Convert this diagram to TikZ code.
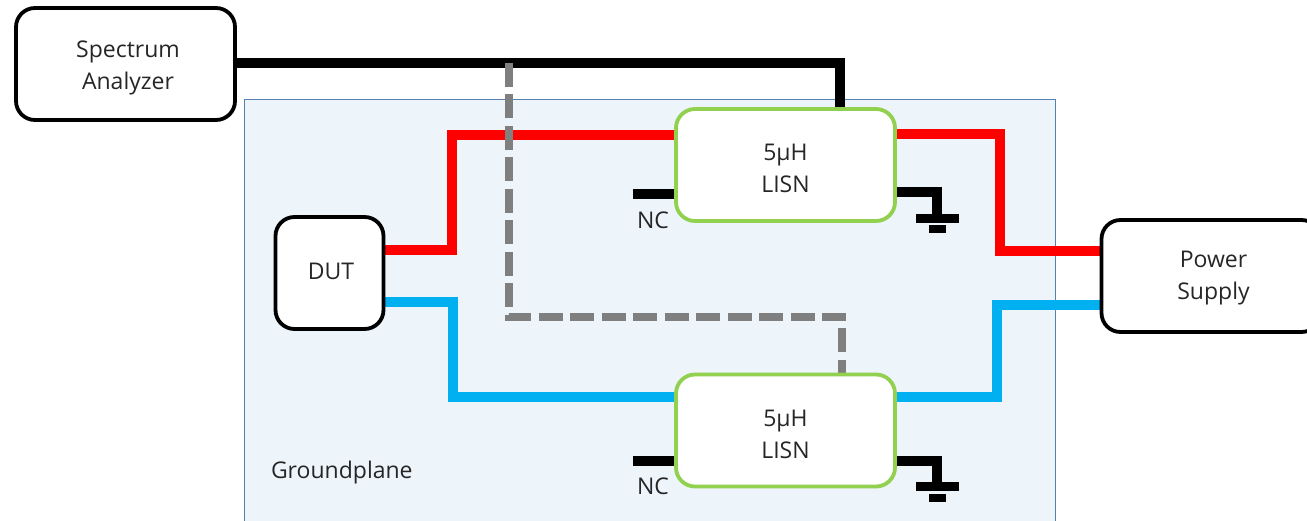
\documentclass[tikz,border=0pt]{standalone}
\usepackage{fontspec}
\setmainfont{Open Sans}
\pgfdeclarelayer{plane}
\pgfdeclarelayer{wires}
\pgfsetlayers{plane,wires,main}
\definecolor{planefill}{RGB}{237,244,250}
\definecolor{planeline}{RGB}{86,130,175}
\definecolor{lisngreen}{HTML}{92D050}
\definecolor{wireblue}{HTML}{00B0F0}
\definecolor{wiregray}{HTML}{7F7F7F}
\definecolor{txt}{RGB}{38,38,38}
\newcommand{\topstrut}[1]{\rule{0pt}{#1}}
\tikzset{
  lbl/.style={text=txt,font=\fontsize{23}{32}\selectfont,align=center,inner sep=0pt,outer sep=0pt},
  blockbox/.style={lbl,draw=black,fill=white,line width=3.8pt,rounded corners=19pt,minimum width=219pt,minimum height=112pt},
  lisnbox/.style={blockbox,draw=lisngreen},
  wire/.style={line width=10pt,line cap=butt,line join=miter},
  redwire/.style={wire,draw=red},
  bluewire/.style={wire,draw=wireblue},
  blackwire/.style={wire,draw=black},
  graywire/.style={line width=8pt,draw=wiregray,dash pattern=on 24pt off 7.5pt},
  gbar/.style={fill=black,draw=none,inner sep=0pt,outer sep=0pt,minimum width=43pt,minimum height=9pt},
  gdot/.style={fill=black,draw=none,inner sep=0pt,outer sep=0pt,minimum width=17pt,minimum height=8pt},
}
\begin{document}
\begin{tikzpicture}[x=1pt,y=-1pt]
\clip (0,0) rectangle (1307,521);
\begin{pgfonlayer}{plane}
\node[draw=planeline,fill=planefill,line width=1pt,inner sep=0pt,outer sep=0pt,minimum width=811pt,minimum height=440pt,anchor=north west] (plane) at (244.5,99.5) {};
\end{pgfonlayer}
\node[blockbox] (sa) at (125.5,64) {\topstrut{25.5pt}\hspace*{5pt}Spectrum\\\hspace*{5pt}Analyzer};
\node[blockbox,minimum width=108pt] (dut) at (329.5,273) {\rule[-4pt]{0pt}{4pt}\hspace*{3pt}DUT};
\node[blockbox,anchor=west] (ps) at (1101.5,276) {\topstrut{21.5pt}\hspace*{5pt}Power\\\hspace*{5pt}Supply};
\node[lisnbox] (l1) at (785.5,165) {\topstrut{23.5pt}5µH\\LISN};
\node[lisnbox] (l2) at (785.5,430.5) {\topstrut{23.5pt}5µH\\LISN};
\node[lbl,anchor=west] (gp) at (271,473) {Groundplane};
\node[lbl] (nc1) at (653,220) {NC};
\node[lbl] (nc2) at (653,486) {NC};
\coordinate (ncend1) at (633,194);
\coordinate (ncend2) at (633,460.5);
\node[gbar] (gb1) at (937.5,218.5) {};
\node[gdot] (gd1) at (937,229) {};
\node[gbar] (gb2) at (937.5,486) {};
\node[gdot] (gd2) at (937,497.5) {};
\begin{pgfonlayer}{wires}
\draw[blackwire] (sa.east |- 0,63) -- (839.5,63) -- (839.5,0 |- l1.north);
\draw[redwire] (dut.east |- 0,250) -- (452,250) -- (452,135) -- (l1.west |- 0,135);
\draw[redwire] (l1.east |- 0,134) -- (999.5,134) -- (999.5,251) -- (ps.west |- 0,251);
\draw[bluewire] (dut.east |- 0,302) -- (453,302) -- (453,397) -- (l2.west |- 0,397);
\draw[bluewire] (l2.east |- 0,397) -- (997,397) -- (997,305) -- (ps.west |- 0,305);
\draw[graywire] (509,63) -- (509,317) -- (842,317) -- (842,0 |- l2.north);
\draw[blackwire] (ncend1) -- (l1.west |- ncend1);
\draw[blackwire] (ncend2) -- (l2.west |- ncend2);
\draw[blackwire] (l1.east |- 0,192) -- (937,192) -- (gb1.north -| 937,0);
\draw[blackwire] (l2.east |- 0,460.5) -- (937,460.5) -- (gb2.north -| 937,0);
\end{pgfonlayer}
\end{tikzpicture}
\end{document}
